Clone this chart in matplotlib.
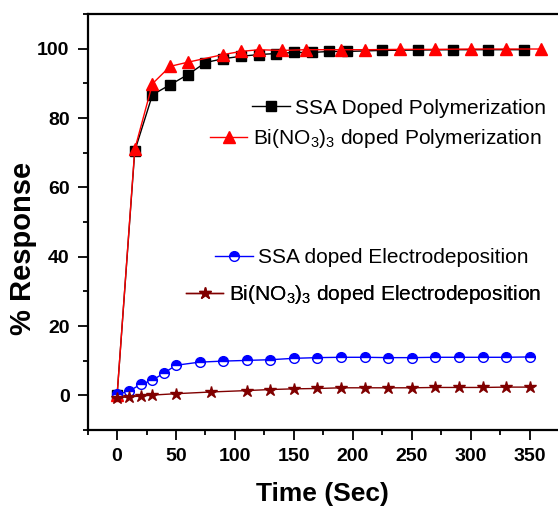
import numpy as np
import matplotlib
matplotlib.use('Agg')
import matplotlib.pyplot as plt
from matplotlib.ticker import MultipleLocator

plt.rcParams['font.family'] = ['Liberation Sans', 'DejaVu Sans']
plt.rcParams['mathtext.fontset'] = 'custom'
plt.rcParams['mathtext.rm'] = 'Liberation Sans'
plt.rcParams['mathtext.it'] = 'Liberation Sans'

# SSA doped polymerization (black squares)
t_ssa_poly = [0, 15, 30, 45, 60, 75, 90, 105, 120, 135, 150, 165, 180, 195,
              225, 255, 285, 315, 345]
r_ssa_poly = [0, 70.5, 86.7, 89.6, 92.5, 96.0, 97.1, 97.8, 98.3, 98.6, 98.9,
              98.9, 99.2, 99.2, 99.5, 99.6, 99.7, 99.7, 99.7]

# Bi(NO3)3 doped polymerization (red triangles)
t_bi_poly = [0, 15, 30, 45, 60, 90, 105, 120, 140, 160, 190, 210, 240, 270,
             300, 330, 360]
r_bi_poly = [0, 71.0, 89.9, 94.9, 96.1, 98.3, 99.2, 99.7, 99.5, 99.7, 99.7,
             99.7, 99.8, 99.8, 99.9, 99.9, 99.9]

# SSA doped electrodeposition (blue half circles)
t_ssa_ed = [0, 10, 20, 30, 40, 50, 70, 90, 110, 130, 150, 170, 190, 210, 230,
            250, 270, 290, 310, 330, 350]
r_ssa_ed = [0.3, 1.2, 3.2, 4.4, 6.5, 8.7, 9.6, 9.9, 10.1, 10.3, 10.7, 10.9,
            11.0, 11.0, 10.9, 10.9, 11.0, 11.0, 11.0, 11.0, 11.1]

# Bi(NO3)3 doped electrodeposition (dark red stars)
t_bi_ed = [0, 10, 20, 30, 50, 80, 110, 130, 150, 170, 190, 210, 230, 250, 270,
           290, 310, 330, 350]
r_bi_ed = [-0.7, -0.4, -0.2, 0.1, 0.5, 1.0, 1.4, 1.7, 1.9, 2.0, 2.2, 2.2, 2.2,
           2.2, 2.3, 2.3, 2.3, 2.4, 2.4]

fig = plt.figure(figsize=(5.58, 5.09), dpi=100)
ax = fig.add_axes([0.157, 0.155, 0.843, 0.8175])

l1, = ax.plot(t_ssa_poly, r_ssa_poly, '-', color='black', lw=1,
              marker='s', ms=7, mfc='black', mec='black')
l2, = ax.plot(t_bi_poly, r_bi_poly, '-', color='red', lw=1,
              marker='^', ms=9, mfc='red', mec='red')
l3, = ax.plot(t_ssa_ed, r_ssa_ed, '-', color='blue', lw=1,
              marker='o', ms=7, fillstyle='top', mfc='blue',
              markerfacecoloralt='white', mec='blue')
l4, = ax.plot(t_bi_ed, r_bi_ed, '-', color='#800000', lw=1,
              marker='*', ms=9, mfc='#800000', mec='#800000')

ax.set_xlim(-25, 374)
ax.set_ylim(-10, 110)
ax.xaxis.set_major_locator(MultipleLocator(50))
ax.xaxis.set_minor_locator(MultipleLocator(25))
ax.yaxis.set_major_locator(MultipleLocator(20))
ax.yaxis.set_minor_locator(MultipleLocator(10))

for s in ['left', 'bottom', 'top']:
    ax.spines[s].set_linewidth(1.6)
ax.spines['right'].set_visible(False)

ax.tick_params(axis='both', which='major', direction='out', length=7,
               width=1.3, labelsize=14, pad=6)
ax.tick_params(axis='both', which='minor', direction='out', length=3.5,
               width=1.3)
for lab in ax.get_xticklabels() + ax.get_yticklabels():
    lab.set_fontweight('bold')

ax.set_xlabel('Time (Sec)', fontsize=19, fontweight='bold', labelpad=12)
fig.text(23 / 558, 0.511, '% Response', fontsize=21, fontweight='bold',
         rotation=90, ha='center', va='center')

labels = ['SSA Doped Polymerization',
          r'Bi(NO$_3$)$_3$ doped Polymerization',
          'SSA doped Electrodeposition',
          r'Bi(NO$_3$)$_3$ doped Electrodeposition']
anchors = [(0.350, 0.774), (0.260, 0.700), (0.271, 0.415), (0.209, 0.326)]
for h, lab, pos in zip([l1, l2, l3, l4], labels, anchors):
    leg = ax.legend([h], [lab], loc='center left', bbox_to_anchor=pos,
                    frameon=False, fontsize=15, handlelength=1.8,
                    handletextpad=0.25, borderpad=0, borderaxespad=0,
                    numpoints=1)
    ax.add_artist(leg)

fig.savefig('out.png', dpi=100)
